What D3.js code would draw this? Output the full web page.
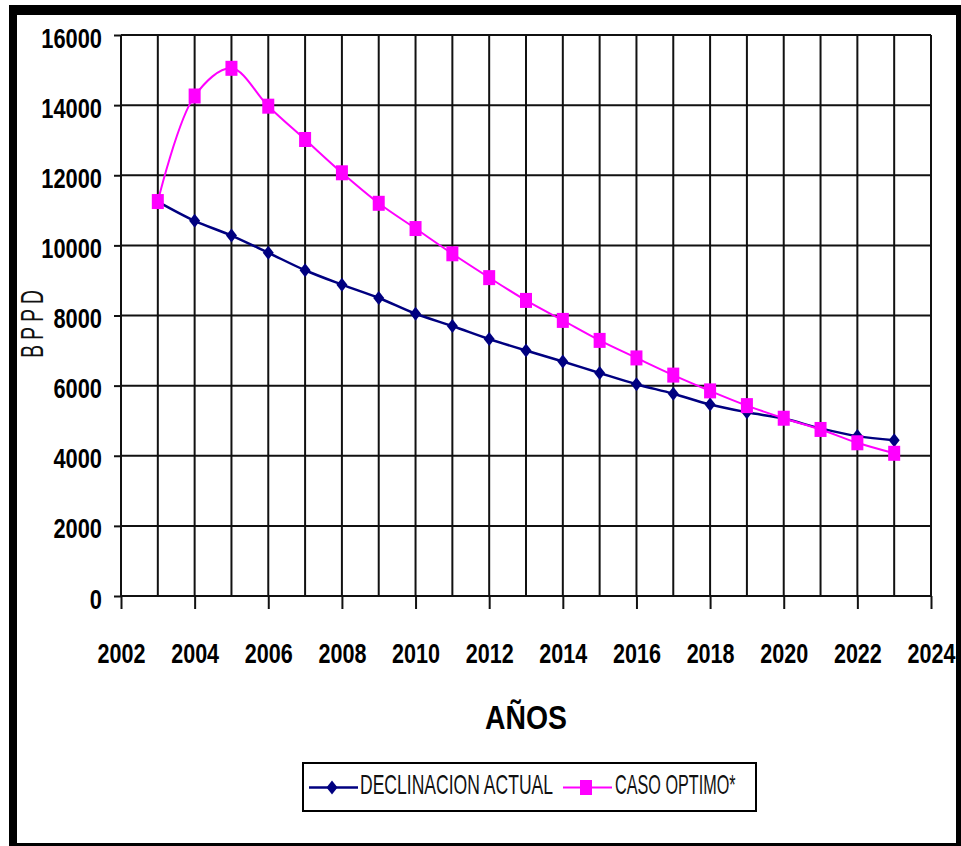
<!DOCTYPE html>
<html>
<head>
<meta charset="utf-8">
<script src="https://cdn.jsdelivr.net/npm/d3@7"></script>
<style>
  body { margin: 0; background: #fff; }
  svg { display: block; }
  text { font-family: "Liberation Sans", Arial, sans-serif; }
</style>
</head>
<body>
<div class="chart"></div>
<script>
// data
var years = [2003, 2004, 2005, 2006, 2007, 2008, 2009, 2010, 2011, 2012, 2013,
             2014, 2015, 2016, 2017, 2018, 2019, 2020, 2021, 2022, 2023];
var declinacion = [11250, 10700, 10280, 9790, 9290, 8880, 8500, 8050, 7700, 7330, 7000,
                   6690, 6360, 6040, 5770, 5460, 5240, 5060, 4780, 4560, 4440];
var optimo = [11250, 14260, 15050, 13970, 13020, 12070, 11200, 10480, 9760, 9080, 8430,
              7860, 7290, 6790, 6300, 5850, 5430, 5070, 4750, 4370, 4070];
var gridYears = [2002, 2003, 2004, 2005, 2006, 2007, 2008, 2009, 2010, 2011, 2012, 2013,
                 2014, 2015, 2016, 2017, 2018, 2019, 2020, 2021, 2022, 2023, 2024];
var xTicks = [2002, 2004, 2006, 2008, 2010, 2012, 2014, 2016, 2018, 2020, 2022, 2024];
var yTicks = [0, 2000, 4000, 6000, 8000, 10000, 12000, 14000, 16000];
var seriesNames = ["DECLINACION ACTUAL", "CASO OPTIMO*"];

var width = 961;
var height = 846;

var svg = d3.select(".chart")
    .append("svg")
    .attr("width", width)
    .attr("height", height);

//////// frame
svg.append("rect")
    .attr("x", 9).attr("y", 5)
    .attr("width", 952).attr("height", 841)
    .attr("fill", "#000");
svg.append("rect")
    .attr("x", 17).attr("y", 15)
    .attr("width", 939).attr("height", 828)
    .attr("fill", "#fff");

//////// scales
var x = d3.scaleLinear().domain([2002, 2024]).range([121, 931]);
var y = d3.scaleLinear().domain([0, 16000]).range([596, 35]);

//////// grid
var grid = svg.append("g").attr("stroke", "#111").attr("stroke-width", 2);

grid.selectAll(".vgrid")
    .data(gridYears)
    .enter().append("line")
    .attr("x1", function(d) { return x(d); })
    .attr("x2", function(d) { return x(d); })
    .attr("y1", y(16000))
    .attr("y2", y(0));

grid.selectAll(".hgrid")
    .data(yTicks)
    .enter().append("line")
    .attr("x1", x(2002))
    .attr("x2", x(2024))
    .attr("y1", function(d) { return y(d); })
    .attr("y2", function(d) { return y(d); });

//////// axes
var yAxis = svg.append("g")
    .attr("transform", "translate(" + x(2002) + ",0)")
    .call(d3.axisLeft(y).tickValues(yTicks).tickSize(7).tickPadding(12).tickFormat(d3.format("d")));

var xAxis = svg.append("g")
    .attr("transform", "translate(0," + y(0) + ")")
    .call(d3.axisBottom(x).tickValues(xTicks).tickSize(13).tickFormat(d3.format("d")));

[yAxis, xAxis].forEach(function(ax) {
    ax.select(".domain").remove();
    ax.selectAll(".tick line").attr("stroke", "#111").attr("stroke-width", 2);
    ax.selectAll(".tick text")
        .attr("fill", "#000")
        .style("font-size", "28px")
        .style("font-weight", "bold")
        .style("font-family", "'Liberation Sans', Arial, sans-serif");
});

// the original glyphs are narrow: squeeze them horizontally
var sqY = 0.78, sqX = 0.77;
yAxis.selectAll(".tick text")
    .attr("dy", "0.43em")
    .attr("x", -19 / sqY)
    .attr("transform", "scale(" + sqY + ",1)");
xAxis.selectAll(".tick text")
    .attr("y", 67).attr("dy", 0)
    .attr("transform", "scale(" + sqX + ",1)");

//////// axis titles
svg.append("text")
    .attr("transform", "translate(" + (x(2002) + x(2024)) / 2 + ",729) scale(0.86,1)")
    .attr("text-anchor", "middle")
    .attr("font-size", "33px")
    .attr("font-weight", "bold")
    .text("AÑOS");

svg.append("text")
    .attr("transform", "translate(43,324) rotate(-90) scale(0.62,1)")
    .attr("text-anchor", "middle")
    .attr("font-size", "31px")
    .attr("fill", "#111")
    .text("B P P D");

//////// lines
var line = function(values) {
    return d3.line()
        .x(function(d, i) { return x(years[i]); })
        .y(function(d) { return y(d); })
        .curve(d3.curveCatmullRom.alpha(0.5))(values);
};

var diamond = function(cx, cy) {
    return "M " + cx + " " + (cy - 7) + " L " + (cx + 5.5) + " " + cy +
           " L " + cx + " " + (cy + 7) + " L " + (cx - 5.5) + " " + cy + " Z";
};

svg.append("path")
    .attr("d", line(declinacion))
    .attr("fill", "none")
    .attr("stroke", "#000080")
    .attr("stroke-width", 2.5);

svg.selectAll(".dec")
    .data(declinacion)
    .enter().append("path")
    .attr("d", function(d, i) { return diamond(x(years[i]), y(d)); })
    .attr("fill", "#000080");

svg.append("path")
    .attr("d", line(optimo))
    .attr("fill", "none")
    .attr("stroke", "#ff00ff")
    .attr("stroke-width", 2);

svg.selectAll(".opt")
    .data(optimo)
    .enter().append("rect")
    .attr("x", function(d, i) { return x(years[i]) - 6; })
    .attr("y", function(d) { return y(d) - 7.5; })
    .attr("width", 12)
    .attr("height", 15)
    .attr("fill", "#ff00ff");

//////// legend
var legend = svg.append("g");

legend.append("rect")
    .attr("x", 303).attr("y", 763)
    .attr("width", 453).attr("height", 48)
    .attr("fill", "#fff")
    .attr("stroke", "#000")
    .attr("stroke-width", 2);

// series 1
legend.append("line")
    .attr("x1", 309).attr("x2", 358)
    .attr("y1", 787.5).attr("y2", 787.5)
    .attr("stroke", "#000080").attr("stroke-width", 2.5);
legend.append("path")
    .attr("d", diamond(332, 787.5))
    .attr("fill", "#000080");
legend.append("text")
    .attr("transform", "translate(360,794) scale(0.65,1)")
    .attr("font-size", "27px")
    .attr("fill", "#111")
    .text(seriesNames[0]);

// series 2
legend.append("line")
    .attr("x1", 563).attr("x2", 612)
    .attr("y1", 787.5).attr("y2", 787.5)
    .attr("stroke", "#ff00ff").attr("stroke-width", 2);
legend.append("rect")
    .attr("x", 580).attr("y", 780)
    .attr("width", 12).attr("height", 15)
    .attr("fill", "#ff00ff");
legend.append("text")
    .attr("transform", "translate(615,794) scale(0.6,1)")
    .attr("font-size", "27px")
    .attr("fill", "#111")
    .text(seriesNames[1]);
</script>
</body>
</html>
